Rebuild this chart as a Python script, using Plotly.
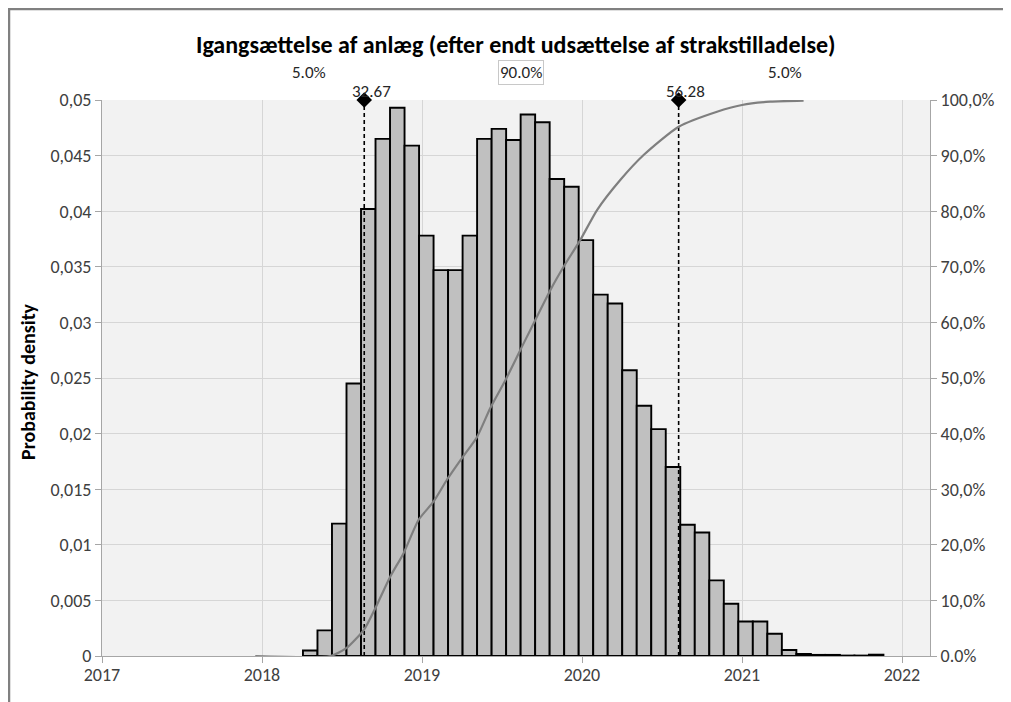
import plotly.graph_objects as go

# histogram (probability density per bin), bins of equal width starting at bin_start
bin_start = 2018.256
bin_width = 0.0907
density = [0.0005, 0.0023, 0.0119, 0.0245, 0.0402, 0.0465, 0.0493, 0.0459, 0.0378, 0.0347,
           0.0347, 0.0378, 0.0465, 0.0474, 0.0464, 0.0487, 0.0480, 0.0429, 0.0422, 0.0374,
           0.0325, 0.0317, 0.0257, 0.0225, 0.0204, 0.0170, 0.0118, 0.0111, 0.0068, 0.0047,
           0.0031, 0.0031, 0.0020, 0.00054, 0.00018, 0.0001, 0.0001, 0.00004, 0.00004, 0.00012]

# cumulative probability curve
cum_x = [2017.958, 2018.427, 2018.527, 2018.639, 2018.708, 2018.802, 2018.885, 2018.979,
         2019.073, 2019.156, 2019.250, 2019.344, 2019.427, 2019.521, 2019.614, 2019.802,
         2019.885, 2019.989, 2020.094, 2020.239, 2020.385, 2020.604, 2020.844, 2021.000,
         2021.177, 2021.385]
cum_p = [0.0, 0.0, 0.014, 0.048, 0.086, 0.143, 0.185, 0.245, 0.278, 0.317, 0.356, 0.394,
         0.446, 0.496, 0.55, 0.658, 0.70, 0.748, 0.802, 0.856, 0.901, 0.952, 0.979, 0.991,
         0.997, 0.999]

# 5% / 95% markers
marker_x = [2018.639, 2020.604]
marker_labels = ["32.67", "56.28"]
band_labels = ["5.0%", "90.0%", "5.0%"]
band_x = [2018.296, 2019.62, 2021.27]

year_ticks = [2017, 2018, 2019, 2020, 2021, 2022]
dens_ticks = [0, 0.005, 0.01, 0.015, 0.02, 0.025, 0.03, 0.035, 0.04, 0.045, 0.05]
dens_text = ["0", "0,005", "0,01", "0,015", "0,02", "0,025", "0,03", "0,035", "0,04", "0,045", "0,05"]
cum_ticks = [0, 0.1, 0.2, 0.3, 0.4, 0.5, 0.6, 0.7, 0.8, 0.9, 1.0]
cum_text = ["0.0%", "10,0%", "20,0%", "30,0%", "40,0%", "50,0%", "60,0%", "70,0%", "80,0%", "90,0%", "100,0%"]

title = "Igangsættelse af anlæg (efter endt udsættelse af strakstilladelse)"

# the page puts the figure 8px in from the corner, so work in page pixels and shift
OFF = 8
W, H = 1011 - OFF, 702 - OFF
L, R, T, B = 102 - OFF, 930 - OFF, 100 - OFF, 656 - OFF
FONT = "Carlito, Lato, 'DejaVu Sans Condensed', sans-serif"
AXIS = "#a6a6a6"
GRID = "#d6d6d6"


def px_x(px):
    return (px - OFF - L) / (R - L)


def px_y(py):
    return (B - (py - OFF)) / (B - T)


centers = [bin_start + bin_width * (i + 0.5) for i in range(len(density))]

fig = go.Figure()
fig.add_trace(go.Bar(x=centers, y=density, width=bin_width,
                     marker=dict(color="#c0c0c0", line=dict(color="black", width=1.9))))
fig.add_trace(go.Scatter(x=cum_x, y=cum_p, yaxis="y2", mode="lines",
                         line=dict(color="#7f7f7f", width=2.2, shape="spline", smoothing=0.6)))
for mx in marker_x:
    fig.add_trace(go.Scatter(x=[mx, mx], y=[0, dens_ticks[-1]], mode="lines",
                             line=dict(color="black", width=1.6, dash="4px,3px")))
fig.add_trace(go.Scatter(x=marker_x, y=[dens_ticks[-1]] * len(marker_x), mode="markers",
                         marker=dict(symbol="diamond", size=12, color="black"), cliponaxis=False))

annotations = []
for mx, lab in zip(marker_x, marker_labels):
    annotations.append(dict(x=mx, y=1, xref="x", yref="paper", text=lab, showarrow=False,
                            xanchor="center", yanchor="bottom", xshift=7, yshift=-4,
                            font=dict(size=17, color="#262626")))
for bx, lab in zip(band_x, band_labels):
    boxed = lab == "90.0%"
    annotations.append(dict(x=bx, y=px_y(72), xref="x", yref="paper", text=lab, showarrow=False,
                            xanchor="center", yanchor="middle",
                            bordercolor="#c8c8c8" if boxed else None, borderwidth=1 if boxed else 0,
                            borderpad=1, font=dict(size=17, color="#262626")))
annotations.append(dict(x=px_x(28), y=px_y(382), xref="paper", yref="paper",
                        text="<b>Probability density</b>", textangle=-90, showarrow=False,
                        xanchor="center", yanchor="middle", font=dict(size=20, color="black")))
annotations.append(dict(x=px_x(1015), y=px_y(392), xref="paper", yref="paper",
                        text="<b>Cumulative probability</b>", textangle=-90, showarrow=False,
                        xanchor="center", yanchor="middle", font=dict(size=20, color="black")))
annotations.append(dict(x=px_x(516), y=px_y(45), xref="paper", yref="paper",
                        text="<b>" + title + "</b>", showarrow=False,
                        xanchor="center", yanchor="middle", font=dict(size=24, color="black")))

# outer chart frame (top and left edges visible)
shapes = [
    dict(type="line", xref="paper", yref="paper", x0=px_x(8), x1=px_x(1011), y0=px_y(9), y1=px_y(9),
         line=dict(color="#808080", width=2.5)),
    dict(type="line", xref="paper", yref="paper", x0=px_x(9), x1=px_x(9), y0=px_y(9), y1=px_y(702),
         line=dict(color="#808080", width=2.5)),
]

fig.update_layout(
    width=W, height=H,
    margin=dict(l=L, r=W - R, t=T, b=H - B, autoexpand=False),
    paper_bgcolor="white", plot_bgcolor="#f2f2f2",
    showlegend=False,
    font=dict(family=FONT, size=18, color="#404040"),
    xaxis=dict(range=[2017, 2017 + (R - L) / 160], tickvals=year_ticks,
               ticktext=[str(y) for y in year_ticks], showgrid=True, gridcolor=GRID,
               showline=True, linecolor=AXIS, ticks="outside", ticklen=6, tickcolor=AXIS,
               ticklabelstandoff=-4, zeroline=False),
    yaxis=dict(range=[0, 0.05], tickvals=dens_ticks, ticktext=dens_text, showgrid=True,
               gridcolor=GRID, showline=True, linecolor=AXIS, ticks="outside", ticklen=6,
               tickcolor=AXIS, zeroline=False),
    yaxis2=dict(range=[0, 1], overlaying="y", side="right", tickvals=cum_ticks, ticktext=cum_text,
                showgrid=False, showline=True, linecolor=AXIS, ticks="outside", ticklen=6,
                tickcolor=AXIS, zeroline=False),
    annotations=annotations,
    shapes=shapes,
)

fig.write_html("out.html")
